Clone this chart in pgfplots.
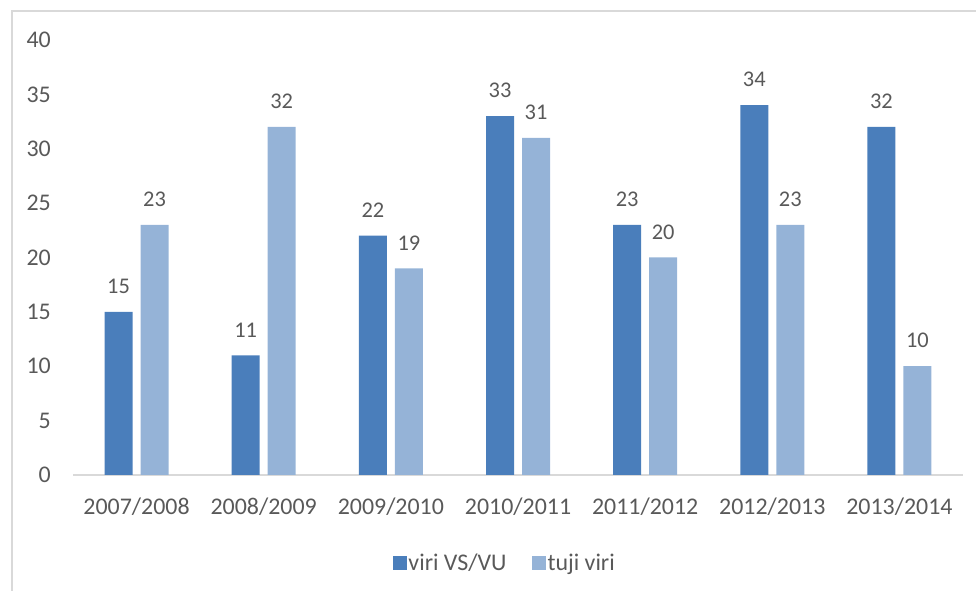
\documentclass[border=0pt]{standalone}
\usepackage{fontspec}
\setmainfont{Carlito}
\usepackage{pgfplots}
\pgfplotsset{compat=1.18}
\definecolor{darkbar}{HTML}{4A7EBB}
\definecolor{lightbar}{HTML}{95B3D7}
\definecolor{txtgray}{HTML}{595959}
\definecolor{framegray}{HTML}{D9D9D9}
\begin{document}
\begin{tikzpicture}[x=1bp,y=1bp]
\path[use as bounding box] (0,0) rectangle (976,591);
% chart frame (cut by the page on the right and bottom)
\draw[framegray, line width=1.5bp] (12,-5) -- (12,580) -- (990,580);
\begin{axis}[
    at={(73bp,116bp)}, anchor=south west,
    scale only axis,
    width=890bp, height=435bp,
    ybar=8bp, bar width=28bp,
    xmin=-0.5, xmax=6.5,
    ymin=0, ymax=40,
    xtick={0,...,6},
    xticklabels={2007/2008,2008/2009,2009/2010,2010/2011,2011/2012,2012/2013,2013/2014},
    ytick={0,5,...,40},
    /pgf/number format/assume math mode=true,
    axis x line*=bottom,
    axis y line*=left,
    x axis line style={draw=framegray, line width=1.2bp, -},
    y axis line style={draw=none},
    major tick length=0pt,
    tick style={draw=none},
    tick label style={font=\fontsize{24}{28}\selectfont, text=txtgray},
    xticklabel style={inner sep=0pt, anchor=north, yshift=-23bp},
    yticklabel style={inner sep=0pt, anchor=east, xshift=-22bp},
    nodes near coords,
    every node near coord/.append style={font=\fontsize{22.5}{26}\selectfont, text=txtgray, anchor=south, inner sep=0pt, yshift=18bp},
    legend style={
        at={(0.485,-0.202)}, anchor=center,
        legend columns=2, draw=none, fill=none,
        font=\fontsize{24}{28}\selectfont, text=txtgray,
        nodes={inner sep=1.5bp},
        /tikz/every even column/.append style={column sep=24bp},
    },
    legend image code/.code={\fill[#1, draw=none] (0bp,-7bp) rectangle (14bp,7bp);},
]
\addplot[fill=darkbar, draw=none] coordinates {
    (0,15) (1,11) (2,22) (3,33) (4,23) (5,34) (6,32)
};
\addlegendentry{viri VS/VU}
\addplot[fill=lightbar, draw=none] coordinates {
    (0,23) (1,32) (2,19) (3,31) (4,20) (5,23) (6,10)
};
\addlegendentry{tuji viri}
\end{axis}
\end{tikzpicture}
\end{document}
